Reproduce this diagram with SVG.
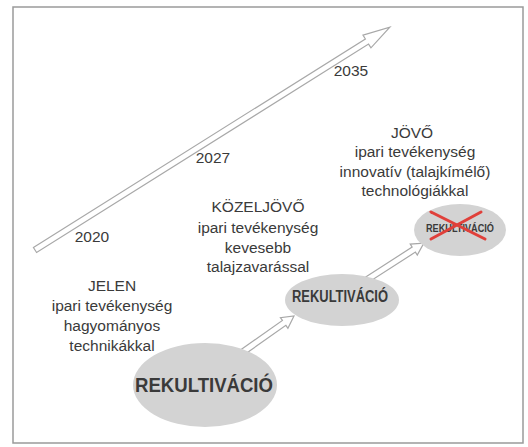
<svg xmlns="http://www.w3.org/2000/svg" width="528" height="447" viewBox="0 0 528 447">
<style>
.t{font-family:"Liberation Sans",Arial,sans-serif;font-size:15.5px;fill:#3a3a3a;text-anchor:middle}
.b{font-family:"Liberation Sans",Arial,sans-serif;font-weight:bold;fill:#3a3a3a;text-anchor:middle}
.el{fill:#d3d3d3}
.arr{fill:#ffffff;stroke:#a8a8a8;stroke-width:1.2;stroke-linejoin:miter}
.x{stroke:#e0403a;stroke-width:3;stroke-linecap:round}
</style>
<rect x="0" y="0" width="528" height="447" fill="#ffffff"/>
<rect x="13" y="7" width="510" height="436" fill="#ffffff" stroke="#9a9a9a" stroke-width="1.5"/>
<g id="timeline">
<path class="arr" transform="translate(35,250) rotate(-32.13)" d="M0,-3 H392 V-7.5 L419,0 L392,7.5 V3 H0 Z"/>
<text class="t" x="351" y="76">2035</text>
<text class="t" x="213" y="163">2027</text>
<text class="t" x="92" y="242">2020</text>
</g>
<g id="connectors">
<path class="arr" transform="translate(240,354) rotate(-35.13)" d="M0,-3 H54 V-6.5 L66,0 L54,6.5 V3 H0 Z"/>
<path class="arr" transform="translate(365,281) rotate(-32.78)" d="M0,-3 H58 V-6.5 L70,0 L58,6.5 V3 H0 Z"/>
</g>
<g id="jelen">
<text class="t" x="112" y="291">JELEN</text>
<text class="t" x="112" y="311">ipari tevékenység</text>
<text class="t" x="112" y="331">hagyományos</text>
<text class="t" x="112" y="351">technikákkal</text>
</g>
<g id="kozeljovo">
<text class="t" x="258" y="212">KÖZELJÖVŐ</text>
<text class="t" x="258" y="233">ipari tevékenység</text>
<text class="t" x="258" y="253">kevesebb</text>
<text class="t" x="258" y="272">talajzavarással</text>
</g>
<g id="jovo">
<text class="t" x="412" y="138">JÖVŐ</text>
<text class="t" x="415" y="157">ipari tevékenység</text>
<text class="t" x="415" y="177">innovatív (talajkímélő)</text>
<text class="t" x="415" y="196">technológiákkal</text>
</g>
<g id="rek-big">
<ellipse class="el" cx="205" cy="385" rx="72" ry="42"/>
<text class="b" x="204" y="392" font-size="21" textLength="138" lengthAdjust="spacingAndGlyphs">REKULTIVÁCIÓ</text>
</g>
<g id="rek-mid">
<ellipse class="el" cx="342" cy="300" rx="57" ry="26"/>
<text class="b" x="340" y="302" font-size="16" textLength="96" lengthAdjust="spacingAndGlyphs">REKULTIVÁCIÓ</text>
</g>
<g id="rek-small">
<ellipse class="el" cx="460" cy="230" rx="46" ry="26"/>
<text class="b" x="460" y="232" font-size="10" textLength="68" lengthAdjust="spacingAndGlyphs">REKULTIVÁCIÓ</text>
<line class="x" x1="431" y1="212" x2="485" y2="239"/>
<line class="x" x1="481" y1="212" x2="431" y2="239"/>
</g>
</svg>
